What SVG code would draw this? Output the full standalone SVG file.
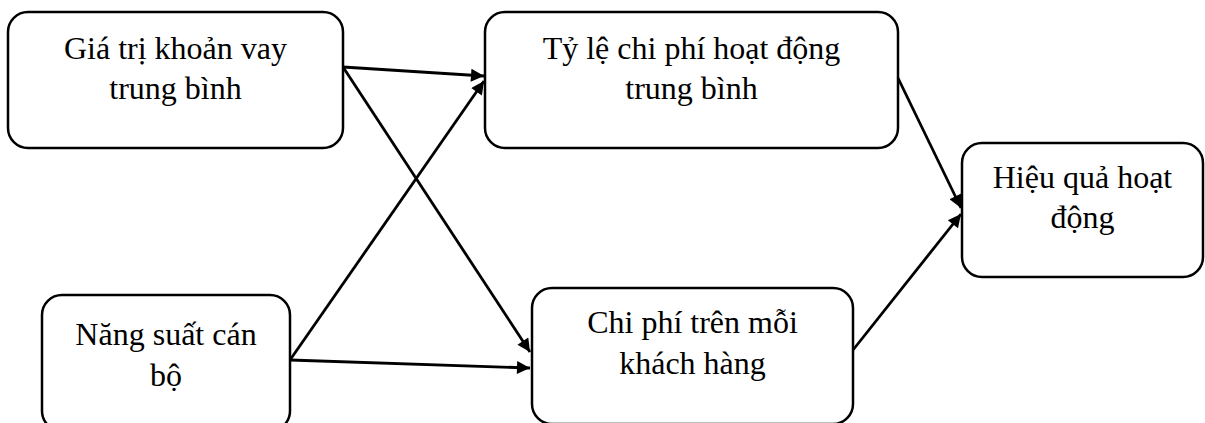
<svg xmlns="http://www.w3.org/2000/svg" width="1205" height="423" viewBox="0 0 1205 423">
<style>
.box{fill:#fff;stroke:#000;stroke-width:2.5}
.lbl{font-family:"Liberation Serif","Times New Roman",serif;font-size:32px;fill:#000;text-anchor:middle}
.con{stroke:#000;stroke-width:2.8;fill:none;marker-end:url(#arr)}
</style>
<defs>
<marker id="arr" viewBox="0 0 10 10" refX="10" refY="5" markerUnits="userSpaceOnUse" markerWidth="16" markerHeight="13" orient="auto">
<path d="M0,0 L10,5 L0,10 z" fill="#000"/>
</marker>
</defs>
<rect width="1205" height="423" fill="#fff"/>
<g id="n1"><rect class="box" x="8" y="12" width="335" height="136" rx="20"/>
<text class="lbl" x="175.5" y="59">Giá trị khoản vay</text><text class="lbl" x="175.5" y="99">trung bình</text></g>
<g id="n2"><rect class="box" x="485" y="12" width="413" height="136" rx="20"/>
<text class="lbl" x="691.5" y="59">Tỷ lệ chi phí hoạt động</text><text class="lbl" x="691.5" y="99">trung bình</text></g>
<g id="n3"><rect class="box" x="42" y="295" width="248" height="136" rx="20"/>
<text class="lbl" x="166" y="345">Năng suất cán</text><text class="lbl" x="166" y="386">bộ</text></g>
<g id="n4"><rect class="box" x="532" y="288" width="321" height="136" rx="20"/>
<text class="lbl" x="692.5" y="333">Chi phí trên mỗi</text><text class="lbl" x="692.5" y="374">khách hàng</text></g>
<g id="n5"><rect class="box" x="962" y="143" width="241" height="134" rx="20"/>
<text class="lbl" x="1082.5" y="188">Hiệu quả hoạt</text><text class="lbl" x="1082.5" y="228">động</text></g>
<g id="connectors">
<line class="con" x1="343" y1="67" x2="484" y2="76"/>
<line class="con" x1="343" y1="67" x2="530" y2="352"/>
<line class="con" x1="290" y1="360" x2="484" y2="81"/>
<line class="con" x1="290" y1="360" x2="530" y2="368"/>
<line class="con" x1="898" y1="78" x2="961" y2="208"/>
<line class="con" x1="853" y1="350" x2="961" y2="214"/>
</g>
</svg>
